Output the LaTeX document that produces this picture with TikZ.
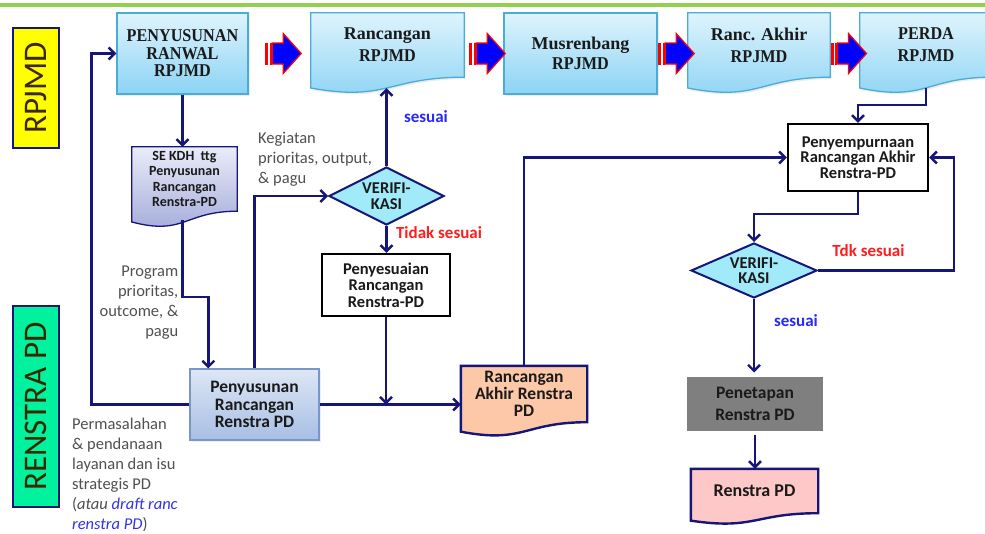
\documentclass[tikz,border=0pt]{standalone}
\usepackage{fontspec}
\setmainfont{Carlito}
\newfontfamily\serifb{Liberation Serif}
\newfontfamily\serifc{Liberation Serif}[FakeStretch=0.9]
\usetikzlibrary{arrows.meta,shapes.geometric,calc,shadows}
\pgfdeclarelayer{bg}
\pgfdeclarelayer{paper}
\pgfsetlayers{paper,bg,main}
\definecolor{navy}{RGB}{22,22,120}
\definecolor{topborder}{RGB}{75,172,214}
\definecolor{toptop}{RGB}{222,244,253}
\definecolor{topbot}{RGB}{140,211,244}
\definecolor{sektop}{RGB}{234,236,249}
\definecolor{sekbot}{RGB}{160,168,216}
\definecolor{prtop}{RGB}{221,231,245}
\definecolor{prbot}{RGB}{168,190,228}
\definecolor{prborder}{RGB}{120,150,200}
\definecolor{diamfill}{RGB}{160,234,250}
\definecolor{peach}{RGB}{252,200,168}
\definecolor{pinkfill}{RGB}{255,200,200}
\definecolor{pengray}{RGB}{127,127,127}
\definecolor{lblgray}{RGB}{80,80,80}
\definecolor{sblue}{RGB}{40,40,255}
\definecolor{sred}{RGB}{255,30,30}
\definecolor{linkblue}{RGB}{50,50,230}
\definecolor{ylw}{RGB}{255,255,0}
\definecolor{grn}{RGB}{0,242,158}
\definecolor{topgreen}{RGB}{146,208,80}
\definecolor{arrred}{RGB}{255,0,0}
\definecolor{arrblue}{RGB}{0,0,255}
\definecolor{lbltxt}{RGB}{60,40,0}
\definecolor{darktext}{RGB}{26,26,26}
\newcommand\docbg[2]{%
  \begin{pgfonlayer}{bg}
  \path[#2] let \p1=(#1.north west), \p2=(#1.south east), \n1={\y1-\y2} in
    (\x1,\y1) -- (\x2,\y1) -- (\x2,\y2)
    .. controls ({(\x1+\x2)/2},\y2) and ({(\x1+\x2)/2},{\y2-0.384*\n1}) ..
    (\x1,{\y2-0.1675*\n1}) -- cycle;
  \end{pgfonlayer}}
\tikzset{
  conn/.style={draw=navy, line width=2.4pt, -{Straight Barb[length=6pt,width=12pt]}},
  topfont/.style={font=\serifb\bfseries\fontsize{18}{22}\selectfont, text=darktext},
  topbox/.style={rectangle, draw=topborder, line width=1.3pt, top color=toptop, bottom color=topbot,
    align=center, inner sep=0pt, topfont,
    drop shadow={opacity=0.15,shadow xshift=1.5pt,shadow yshift=-2pt}},
  docnode/.style={rectangle, inner sep=0pt, align=center},
  topdoc/.style={draw=topborder, line width=1.3pt, top color=toptop, bottom color=topbot,
    drop shadow={opacity=0.15,shadow xshift=1.5pt,shadow yshift=-2pt}},
  sekdoc/.style={draw=navy, line width=1.3pt, top color=sektop, bottom color=sekbot},
  peachdoc/.style={draw=navy, line width=2.4pt, fill=peach},
  pinkdoc/.style={draw=navy, line width=2.4pt, fill=pinkfill},
  whitebox/.style={rectangle, draw=black, line width=2.4pt, fill=white, align=center, inner sep=0pt, text=darktext},
  prbox/.style={rectangle, draw=prborder, line width=1.3pt, top color=prtop, bottom color=prbot,
    align=center, inner sep=0pt, text=darktext,
    drop shadow={opacity=0.15,shadow xshift=1.5pt,shadow yshift=-2pt}},
  verif/.style={diamond, aspect=2, draw=navy, line width=2pt, fill=diamfill, inner sep=0pt, align=center,
    text=darktext, font=\bfseries\fontsize{16.5}{15.5}\selectfont},
  grylbl/.style={inner sep=0pt, text=lblgray, font=\fontsize{16.5}{20}\selectfont},
  sidelbl/.style={draw=navy, line width=2pt, rotate=90, inner sep=0pt, text=lbltxt,
    font=\fontsize{33}{33}\selectfont},
  barrow/.pic={
    \fill[arrred] (-18,-11) rectangle (-15,11);
    \fill[arrred] (-13.5,-11) rectangle (-11.5,11);
    \filldraw[fill=arrblue, draw=arrred, line width=1.2pt]
      (-11,-10.5) -- (0,-10.5) -- (0,-20) -- (18,0) -- (0,20) -- (0,10.5) -- (-11,10.5) -- cycle;
  }
}
\begin{document}
\begin{tikzpicture}[x=1pt,y=-1pt]
\useasboundingbox (0,0) rectangle (985,533);
\begin{pgfonlayer}{paper}
\fill[white] (0,0) rectangle (985,533);
\end{pgfonlayer}
\draw[topgreen, line width=3.5pt] (0,5) -- (985,5);

% side labels
\node[sidelbl, fill=ylw, minimum width=120pt, minimum height=46pt] (lblrpjmd) at (36,88) {RPJMD};
\node[sidelbl, fill=grn, minimum width=201pt, minimum height=46pt] (lblrenstra) at (36,406.5) {RENSTRA PD};

% top row
\node[topbox, minimum width=131pt, minimum height=81pt, font=\serifc\bfseries\fontsize{18}{17.5}\selectfont] (ranwal) at (182.5,53.5) {PENYUSUNAN\\RANWAL\\RPJMD};
\node[docnode, topfont, minimum width=153pt, minimum height=64pt] (rancrpjmd) at (387.5,45) {Rancangan\\{\serifc RPJMD}};
\docbg{rancrpjmd}{topdoc}
\node[topbox, minimum width=153pt, minimum height=81pt, font=\serifb\bfseries\fontsize{18}{20}\selectfont] (musren) at (580.5,53.5) {Musrenbang\\{\serifc RPJMD}};
\node[docnode, topfont, minimum width=142pt, minimum height=64pt] (rancakhir) at (759,45) {Ranc. Akhir\\{\serifc RPJMD}};
\docbg{rancakhir}{topdoc}
\node[docnode, topfont, minimum width=132pt, minimum height=64pt] (perda) at (926,45) {{\serifc PERDA}\\{\serifc RPJMD}};
\docbg{perda}{topdoc}

\pic at ($(ranwal.east)!0.5!(rancrpjmd.west |- ranwal.east)+(3.5,0)$) {barrow};
\pic at ($(rancrpjmd.east |- musren.west)!0.5!(musren.west)+(3.5,0)$) {barrow};
\pic at ($(musren.east)!0.5!(rancakhir.west |- musren.east)+(3.5,0)$) {barrow};
\pic at ($(rancakhir.east |- musren.east)!0.5!(perda.west |- musren.east)+(3.5,0)$) {barrow};

% left column
\node[docnode, text=darktext, font=\bfseries\fontsize{14}{15.3}\selectfont, minimum width=105pt, minimum height=64pt] (sekdh) at (184.5,179) {SE KDH~ ttg\\Penyusunan\\Rancangan\\Renstra-PD};
\docbg{sekdh}{sekdoc}
\node[prbox, minimum width=129pt, minimum height=71pt, font=\bfseries\fontsize{17.5}{17.5}\selectfont] (pr) at (254.5,404.5) {Penyusunan\\Rancangan\\Renstra PD};

% middle
\node[verif, minimum width=115pt, minimum height=58pt] (ver1) at (386.5,196) {VERIFI-\\KASI};
\node[whitebox, minimum width=128pt, minimum height=62pt, font=\bfseries\fontsize{16.5}{16.5}\selectfont] (peny) at (386,285) {Penyesuaian\\Rancangan\\Renstra-PD};
\node[docnode, text=darktext, font=\bfseries\fontsize{17.5}{17}\selectfont, minimum width=126pt, minimum height=56pt] (rakhir) at (524,394) {Rancangan\\Akhir Renstra\\PD};
\docbg{rakhir}{peachdoc}

% right
\node[whitebox, minimum width=140pt, minimum height=67pt, font=\bfseries\fontsize{16.5}{15.5}\selectfont] (penyem) at (858,157.5) {Penyempurnaan\\Rancangan Akhir\\Renstra-PD};
\node[verif, minimum width=126pt, minimum height=55pt] (ver2) at (754,270.5) {VERIFI-\\KASI};
\node[rectangle, fill=pengray, draw=white, line width=4pt, minimum width=140pt, minimum height=58pt, inner sep=0pt, align=center,
  text=darktext, font=\bfseries\fontsize{17.5}{22}\selectfont,
  drop shadow={opacity=0.25,shadow xshift=0.5pt,shadow yshift=-1.5pt}] (pen) at (755,403.5) {Penetapan\\Renstra PD};
\node[docnode, text=darktext, font=\bfseries\fontsize{18}{18}\selectfont, minimum width=127pt, minimum height=44pt] (rpd) at (754.5,491) {Renstra PD};
\docbg{rpd}{pinkdoc}

% text labels
\node[grylbl, align=left, anchor=west] (lkeg) at (258,159.5) {Kegiatan\\prioritas, output,\\\& pagu};
\node[grylbl, align=right, anchor=east] (lprog) at (178.5,303) {Program\\prioritas,\\outcome, \&\\pagu};
\node[grylbl, align=left, anchor=west] (lperm) at (72,475) {Permasalahan\\\& pendanaan\\layanan dan isu\\strategis PD\\(\textit{atau} \textcolor{linkblue}{\textit{draft ranc}}\\\textcolor{linkblue}{\textit{renstra PD}})};
\node[text=sblue, font=\bfseries\fontsize{17}{17}\selectfont, inner sep=0pt] (ses1) at (426,117) {sesuai};
\node[text=sred, font=\bfseries\fontsize{17}{17}\selectfont, inner sep=0pt] (tid) at (439,233) {Tidak sesuai};
\node[text=sred, font=\bfseries\fontsize{17}{17}\selectfont, inner sep=0pt] (tdk) at (868.5,251) {Tdk sesuai};
\node[text=sblue, font=\bfseries\fontsize{17}{17}\selectfont, inner sep=0pt] (ses2) at (796,321) {sesuai};

% connectors
\draw[conn] (ranwal.south) -- (ranwal.south |- sekdh.north);
\coordinate (sekout) at ($(ranwal.south |- sekdh.south)+(0,9)$);
\draw[conn] (sekout) -- ++(0,77) -| ($(pr.north west)+(19,0)$);
\draw[conn] (pr.west) -| ($(ranwal.west)+(-25,0)$) -- (ranwal.west);
\draw[conn] (pr.north) |- (ver1.west);
\coordinate (rancbot) at ($(rancrpjmd.south)+(0,11)$);
\draw[conn] (ver1.north) -- (ver1.north |- rancbot);
\draw[conn] (ver1.south) -- (ver1.south |- peny.north);
\draw[conn] (peny.south) -- (peny.south |- pr.east);
\draw[conn] (pr.east) -- (pr.east -| rakhir.west);
\draw[conn] (rakhir.north) |- (penyem.west);
\draw[conn] ($(perda.south)+(0,11)$) |- ($(penyem.north)+(0,-18)$) -- (penyem.north);
\draw[conn] (penyem.south) |- ($(ver2.north)+(0,-28)$) -- (ver2.north);
\draw[conn] (ver2.east) -| ($(penyem.east)+(25,0)$) -- (penyem.east);
\draw[conn] (ver2.south) -- (ver2.south |- pen.north);
\draw[conn] (pen.south) -- (pen.south |- rpd.north);
\end{tikzpicture}
\end{document}
